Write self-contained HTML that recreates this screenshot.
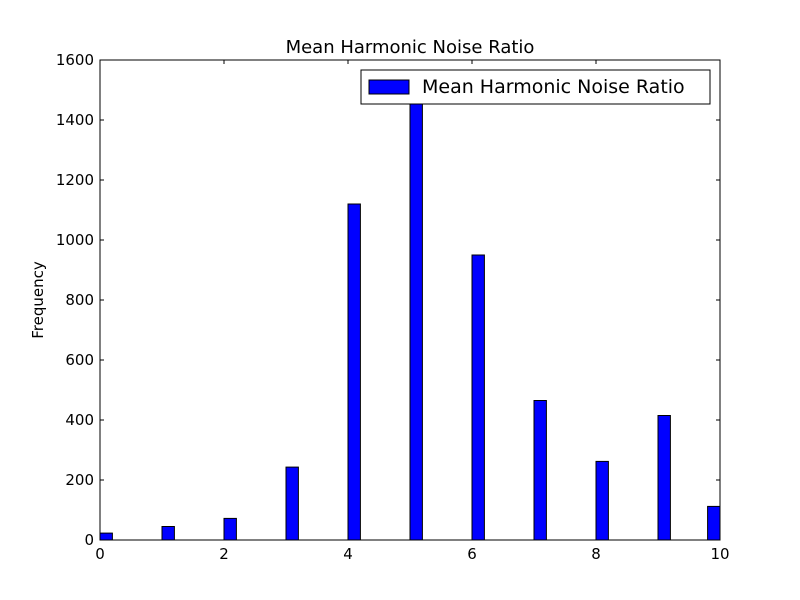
<!DOCTYPE html>
<html><head><meta charset="utf-8"><style>body{margin:0;background:#fff}svg{display:block;font-family:"DejaVu Sans","Liberation Sans",sans-serif}</style></head>
<body>
<svg id="chart" width="800" height="600">
<rect width="800" height="600" fill="#fff"/>
<g id="bars"></g>
<rect x="100" y="60" width="620" height="480" fill="none" stroke="#000" stroke-width="1"/>
<g id="ticks"></g>
<text x="410" y="53" font-size="18" text-anchor="middle">Mean Harmonic Noise Ratio</text>
<text x="43" y="300" font-size="15" text-anchor="middle" transform="rotate(-90 43 300)">Frequency</text>
<g>
<rect x="361" y="70" width="349" height="34" fill="#fff" stroke="#000"/>
<rect x="369" y="80" width="40" height="14" fill="#0000ff" stroke="#000"/>
<text x="422" y="93" font-size="19">Mean Harmonic Noise Ratio</text>
</g>
</svg>
<script>
const binStarts=[0,1,2,3,4,5,6,7,8,9,9.8];
const counts=[23,45,72,243,1120,1500,950,465,262,415,112];
const xTicks=[0,2,4,6,8,10];
const yTicks=[0,200,400,600,800,1000,1200,1400,1600];
const binWidth=0.2;
const NS="http://www.w3.org/2000/svg";
const X=v=>100+v*62, Y=v=>540-v*0.3;
const bars=document.getElementById('bars');
counts.forEach((c,i)=>{
 const r=document.createElementNS(NS,'rect');
 
 
 r.setAttribute('x',X(binStarts[i]));r.setAttribute('width',X(binStarts[i]+binWidth)-X(binStarts[i]));
 r.setAttribute('y',Y(c));r.setAttribute('height',Y(0)-Y(c));
 r.setAttribute('fill','#0000ff');r.setAttribute('stroke','#000');
 bars.appendChild(r);
});
const t=document.getElementById('ticks');
function add(tag,attrs,txt){const e=document.createElementNS(NS,tag);for(const k in attrs)e.setAttribute(k,attrs[k]);if(txt!==undefined)e.textContent=txt;t.appendChild(e);return e;}
xTicks.forEach(v=>{
 add('line',{x1:X(v),x2:X(v),y1:540,y2:536,stroke:'#000'});
 add('line',{x1:X(v),x2:X(v),y1:60,y2:64,stroke:'#000'});
 const e=add('text',{x:X(v),y:559,'font-size':15,'text-anchor':'middle'},v);
 
 
});
yTicks.forEach(v=>{
 add('line',{x1:100,x2:104,y1:Y(v),y2:Y(v),stroke:'#000'});
 add('line',{x1:716,x2:720,y1:Y(v),y2:Y(v),stroke:'#000'});
 const e=add('text',{x:94,y:Y(v)+5,'font-size':15,'text-anchor':'end'},v);
 
 
});
</script>
</body></html>
